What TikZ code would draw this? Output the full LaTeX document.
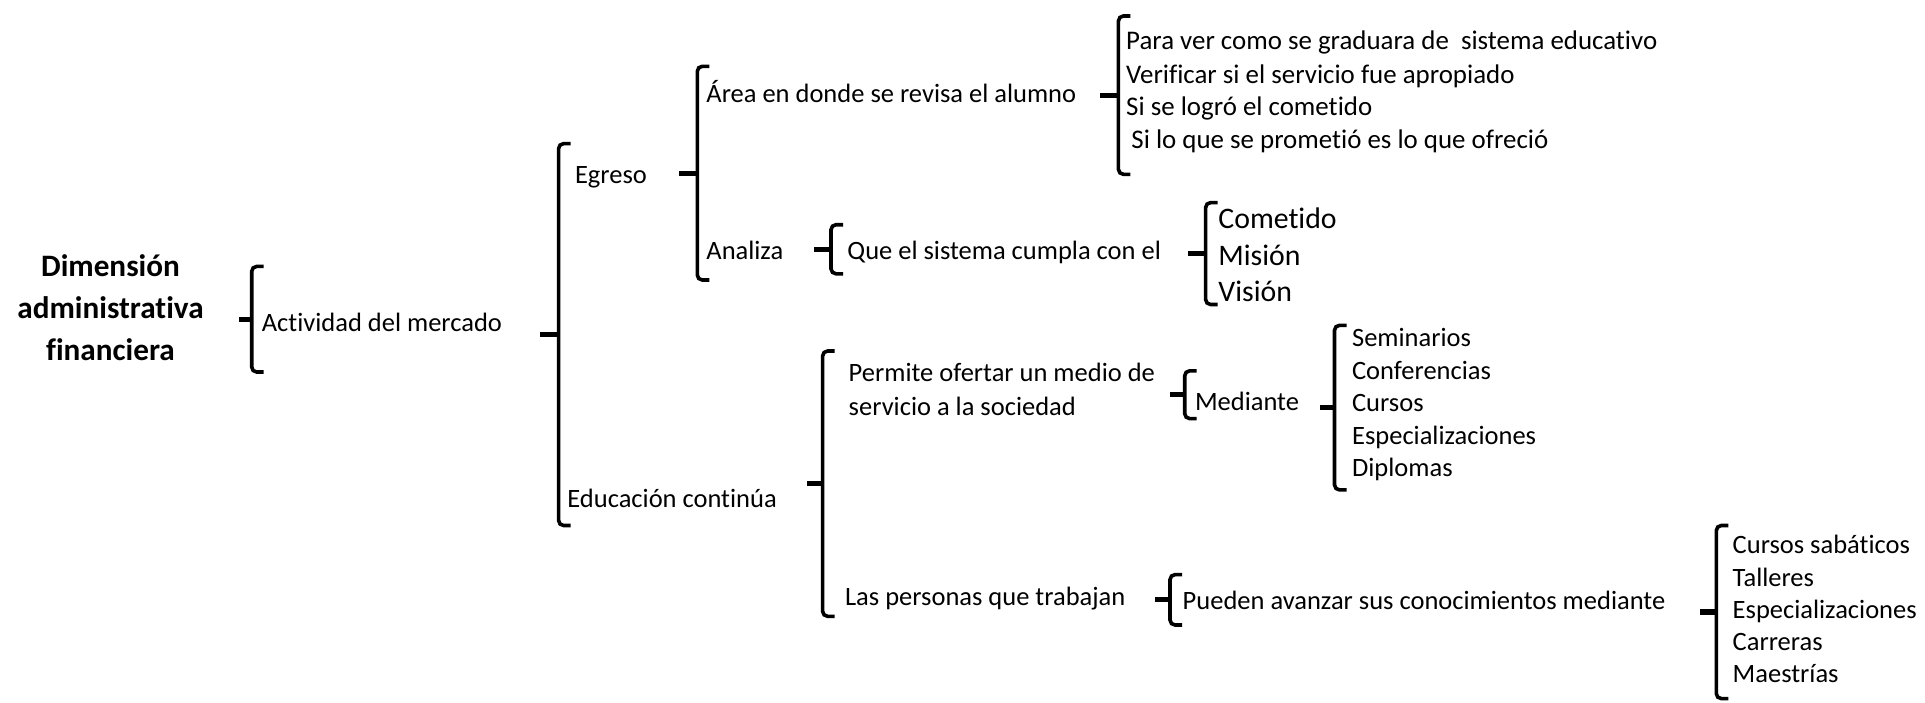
\documentclass[tikz,border=0pt]{standalone}
\usepackage{fontspec}
\setmainfont{Carlito}[Ligatures=NoCommon]
\newcommand\fn{\fontsize{13.25}{16}\selectfont}
\newcommand\fp{\fontsize{13.45}{16}\selectfont}
\newcommand\fc{\fontsize{14.9}{18}\selectfont}
\newcommand\ft{\fontsize{15.6}{20.8}\selectfont\bfseries}
\newcommand\mybrk[4]{%
  \draw[brk] (#1+12,#2) -- (#1,#2) -- (#1,#3) -- (#1+12,#3);
  \draw[brktip] (#4,{(#2+#3)/2}) -- (#1+0.5,{(#2+#3)/2});
}
\tikzset{
  brk/.style={line width=1.8pt, rounded corners=2.5pt},
  brktip/.style={line width=2.6pt},
  txt/.style={anchor=base west, inner sep=0pt, font=\fn},
  ptxt/.style={anchor=base west, inner sep=0pt, font=\fp},
  ctxt/.style={anchor=base west, inner sep=0pt, font=\fc},
  ttl/.style={anchor=base, inner sep=0pt, font=\ft},
}
\begin{document}
\begin{tikzpicture}[x=0.5pt,y=-0.5pt]
\useasboundingbox (0,0) rectangle (1925,702);
% title
\node[ttl] (t1) at (110.5,276) {Dimensión};
\node[ttl] (t2) at (110.5,318) {administrativa};
\node[ttl] (t3) at (110.5,360) {financiera};
\mybrk{251.7}{266.4}{372}{239.4}
\node[txt] (act) at (261.5,331.5) {Actividad del mercado};
\mybrk{558.6}{143.6}{525.5}{540}
\node[txt] (egr) at (574.6,183) {Egreso};
\node[txt] (edu) at (567,507) {Educación continúa};
% Egreso branch
\mybrk{697.3}{66.3}{280}{679}
\node[txt] (area) at (706,102) {Área en donde se revisa el alumno};
\node[txt] (anal) at (706,259) {Analiza};
\mybrk{1118.4}{16}{174.3}{1100}
\node[ptxt] (p1) at (1125.8,49.8) {Para ver como se graduara de\ \ sistema educativo};
\node[ptxt] (p2) at (1125.8,83) {Verificar si el servicio fue apropiado};
\node[ptxt] (p3) at (1125.8,115) {Si se logró el cometido};
\node[ptxt] (p4) at (1131,148) {Si lo que se prometió es lo que ofreció};
\mybrk{831}{224.7}{273.8}{814}
\node[txt] (que) at (847,259) {Que el sistema cumpla con el};
\mybrk{1205.6}{202.6}{304.5}{1188.4}
\node[ctxt] (c1) at (1218,228) {Cometido};
\node[ctxt] (c2) at (1218,265) {Misión};
\node[ctxt] (c3) at (1218,301) {Visión};
% Educacion branch
\mybrk{822.6}{351}{616.3}{806.6}
\node[txt] (perm1) at (848.3,381.7) {Permite ofertar un medio de};
\node[txt] (perm2) at (848.3,415) {servicio a la sociedad};
\node[txt] (las) at (844.7,605) {Las personas que trabajan};
\mybrk{1184.7}{370.8}{418.6}{1170}
\node[txt] (med) at (1194.6,410) {Mediante};
\mybrk{1334.5}{325.3}{489.9}{1319.8}
\node[txt] (s1) at (1351.7,346) {Seminarios};
\node[txt] (s2) at (1351.7,379.3) {Conferencias};
\node[txt] (s3) at (1351.7,411.2) {Cursos};
\node[txt] (s4) at (1351.7,444.3) {Especializaciones};
\node[txt] (s5) at (1351.7,476.3) {Diplomas};
\mybrk{1170}{574.6}{625}{1155.3}
\node[txt] (pue) at (1182.3,609) {Pueden avanzar sus conocimientos mediante};
\mybrk{1716.3}{525.5}{698.6}{1700.4}
\node[txt] (k1) at (1732.3,553.6) {Cursos sabáticos};
\node[txt] (k2) at (1732.3,586.7) {Talleres};
\node[txt] (k3) at (1732.3,618.7) {Especializaciones};
\node[txt] (k4) at (1732.3,650.6) {Carreras};
\node[txt] (k5) at (1732.3,682.5) {Maestrías};
\end{tikzpicture}
\end{document}
